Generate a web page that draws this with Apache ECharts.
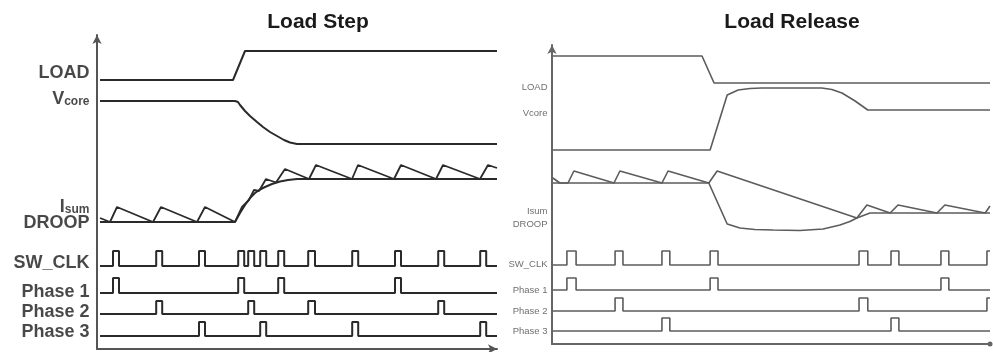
<!DOCTYPE html>
<html><head><meta charset="utf-8">
<script src="https://cdn.jsdelivr.net/npm/echarts/dist/echarts.min.js"></script>
<style>html,body{margin:0;padding:0;background:#fff}#c{width:993px;height:352px}</style>
</head><body><div id="c"></div>
<script>
// ===== Load Step (left panel): time 0..100, level 0..157 =====
const stepLoad  = [[0.75,134.5],[34,134.5],[37,149],[100,149]];
const stepVcore = [[0.75,124],[34.5,124],[35.25,123.5],[35.75,122],[37,119],[38.25,116.5],[40,113.5],[41.5,111],[43.25,108.5],[45,106.5],[46.75,104.5],[48.25,103.25],[50,102.5],[100,102.5]];
const stepDroop = [[0.75,63.5],[34.5,63.5],[35.75,68],[37,72],[38.25,75.5],[39.5,78],[40.75,79.75],[42,81],[43.75,82.5],[45.75,83.75],[47.75,84.5],[50,85],[100,85]];
const stepIsum  = [[0.75,65.5],[3.25,63.5],[5,71],[14,63.5],[16,71],[25,63.5],[27,71],[34.5,63.5],[36.25,71],[38,74.5],[39.25,79.5],[40.5,79],[42.25,85],[44.75,83.25],[47,90],[53,85],[54.75,92],[63.75,85],[65.25,92],[74.25,85],[76,92],[84.75,85],[86.5,92],[95.75,85],[97.75,92],[100,90.5]];
const stepClkPulses    = [[4,5.5],[14.8,16.3],[25.5,27],[35.3,36.8],[37.8,39.3],[40.8,42.3],[45.3,46.8],[52.8,54.5],[63.8,65.3],[74.5,76],[85.3,86.8],[95.8,97.3]];
const stepPhase1Pulses = [[4,5.5],[35.3,36.8],[45.3,46.8],[74.5,76]];
const stepPhase2Pulses = [[14.8,16.3],[37.8,39.3],[52.8,54.5],[85.3,86.8]];
const stepPhase3Pulses = [[25.5,27],[40.8,42.3],[63.8,65.3],[95.8,97.3]];
const stepClkLevel    = [41.5,49];
const stepPhase1Level = [28,35.5];
const stepPhase2Level = [17.5,24];
const stepPhase3Level = [6.5,13.5];
const stepLabels      = ['LOAD','Vcore','Isum','DROOP','SW_CLK','Phase 1','Phase 2','Phase 3'];
const stepLabelLevels = [138,125,71,63,43,28.5,18.5,8.5];

// ===== Load Release (right panel): time 0..100, level 0..149.5 =====
const relLoad  = [[0.2,144],[34.25,144],[37,130.5],[100,130.5]];
const relVcore = [[0.2,97],[36.1,97],[40,124.5],[42.5,127],[45.2,127.75],[47.9,128],[61.6,128],[63.9,127.25],[66.2,125.5],[69.2,121.5],[72.1,117],[100,117]];
const relDroop = [[0.2,80.5],[35.8,80.5],[40,60],[42.9,58],[46.3,57.25],[50.5,57],[56.6,56.75],[61.9,57.5],[65.75,59.5],[68,61.25],[69.6,63],[72.6,65.5],[100,65.5]];
const relIsum  = [[0.2,83],[1.8,80.5],[3.65,80.5],[5,86.5],[14.15,80.5],[15.5,86.5],[25.1,80.5],[26.5,86.5],[35.8,80.5],[37.7,86.5],[69.6,63],[71.9,69.5],[77.2,65.5],[79,69.5],[87.9,65.5],[89.7,69.5],[98.9,65.5],[100,69]];
const relClkPulses    = [[3.4,5.5],[14.4,16.2],[25.1,26.9],[36.1,37.9],[70.1,72.1],[77.4,79.2],[88.8,90.6],[99.3,100]];
const relPhase1Pulses = [[3.4,5.5],[36.1,37.9],[88.8,90.6]];
const relPhase2Pulses = [[14.4,16.2],[70.1,72.1],[99.3,100]];
const relPhase3Pulses = [[25.1,26.9],[77.4,79.2]];
const relClkLevel    = [39.5,46.5];
const relPhase1Level = [27,33];
const relPhase2Level = [16.5,23];
const relPhase3Level = [6.5,13];
const relLabels      = ['LOAD','Vcore','Isum','DROOP','SW_CLK','Phase 1','Phase 2','Phase 3'];
const relLabelLevels = [128.5,115.5,66.5,60,40,27,16.5,6.5];

const titles = ['Load Step','Load Release'];

// build a digital waveform from pulse [start,end] times
function pulseWave(pulses, level, tStart, tEnd) {
  const lo = level[0], hi = level[1];
  const pts = [[tStart, lo]];
  for (const [s, e] of pulses) {
    pts.push([s, lo], [s, hi]);
    if (e >= tEnd) { pts.push([tEnd, hi]); return pts; }
    pts.push([e, hi], [e, lo]);
  }
  pts.push([tEnd, lo]);
  return pts;
}

const FONT = "'Liberation Sans', Arial, sans-serif";
const LEFT_COLOR = '#2a2a2a', RIGHT_COLOR = '#5c5c5c';

function trace(data, gi, color, width) {
  return { type:'line', xAxisIndex:gi, yAxisIndex:gi, data:data, symbol:'none', showSymbol:false,
    lineStyle:{color:color, width:width}, silent:true, animation:false, z:3, clip:false };
}

const series = [
  trace(stepLoad,0,LEFT_COLOR,2), trace(stepVcore,0,LEFT_COLOR,2), trace(stepDroop,0,LEFT_COLOR,2), trace(stepIsum,0,LEFT_COLOR,1.8),
  trace(pulseWave(stepClkPulses,stepClkLevel,0.75,100),0,LEFT_COLOR,2),
  trace(pulseWave(stepPhase1Pulses,stepPhase1Level,0.75,100),0,LEFT_COLOR,2),
  trace(pulseWave(stepPhase2Pulses,stepPhase2Level,0.75,100),0,LEFT_COLOR,2),
  trace(pulseWave(stepPhase3Pulses,stepPhase3Level,0.75,100),0,LEFT_COLOR,2),
  trace(relLoad,1,RIGHT_COLOR,1.6), trace(relVcore,1,RIGHT_COLOR,1.6), trace(relDroop,1,RIGHT_COLOR,1.6), trace(relIsum,1,RIGHT_COLOR,1.6),
  trace(pulseWave(relClkPulses,relClkLevel,0.2,100),1,RIGHT_COLOR,1.6),
  trace(pulseWave(relPhase1Pulses,relPhase1Level,0.2,100),1,RIGHT_COLOR,1.6),
  trace(pulseWave(relPhase2Pulses,relPhase2Level,0.2,100),1,RIGHT_COLOR,1.6),
  trace(pulseWave(relPhase3Pulses,relPhase3Level,0.2,100),1,RIGHT_COLOR,1.6),
  {
    type:'scatter', xAxisIndex:0, yAxisIndex:0, symbolSize:1, itemStyle:{color:'rgba(0,0,0,0)'}, silent:true, animation:false,
    data: stepLabels.map((n,i)=>({name:n, value:[0, stepLabelLevels[i]]})),
    label:{ show:true, position:'left', distance:7, color:'#1a1a1a',
      formatter:(p)=> p.name==='Vcore' ? '{m|V}{s|core}' : p.name==='Isum' ? '{m|I}{s|sum}' : '{m|'+p.name+'}',
      rich:{
        m:{fontSize:18, fontWeight:'bold', color:'#1a1a1a', fontFamily:FONT, lineHeight:18},
        s:{fontSize:12, fontWeight:'bold', color:'#1a1a1a', fontFamily:FONT, verticalAlign:'bottom', lineHeight:14}
      } }
  },
  {
    type:'scatter', xAxisIndex:1, yAxisIndex:1, symbolSize:1, itemStyle:{color:'rgba(0,0,0,0)'}, silent:true, animation:false,
    data: relLabels.map((n,i)=>({name:n, value:[0, relLabelLevels[i]]})),
    label:{ show:true, position:'left', distance:4, formatter:'{b}', fontSize:9.5, color:'#4a4a4a', fontFamily:FONT }
  }
];

function xAx(gi, sym, color) {
  return { gridIndex:gi, type:'value', min:0, max:100,
    axisLine:{show:true, onZero:true, symbol:['none',sym], symbolSize: sym==='circle'?[5,5]:[7,9], lineStyle:{color:color, width:2}},
    axisTick:{show:false}, axisLabel:{show:false}, splitLine:{show:false} };
}
function yAx(gi, max, color) {
  return { gridIndex:gi, type:'value', min:0, max:max,
    axisLine:{show:true, onZero:true, symbol:['none','arrow'], symbolSize:[7,9], lineStyle:{color:color, width:2}},
    axisTick:{show:false}, axisLabel:{show:false}, splitLine:{show:false} };
}

const chart = echarts.init(document.getElementById('c'), null, {renderer:'canvas'});
chart.setOption({
  backgroundColor:'#ffffff',
  animation:false,
  title:[
    {text:titles[0], left:313, top:7, textAlign:'center', textStyle:{fontSize:21, fontWeight:'bold', color:'#1a1a1a', fontFamily:FONT}},
    {text:titles[1], left:787, top:7, textAlign:'center', textStyle:{fontSize:21, fontWeight:'bold', color:'#1a1a1a', fontFamily:FONT}}
  ],
  grid:[
    {left:97, top:35, width:400, height:314, outerBoundsMode:'none', containLabel:false},
    {left:552, top:45, width:438, height:299, outerBoundsMode:'none', containLabel:false}
  ],
  xAxis:[xAx(0,'arrow','#555'), xAx(1,'circle','#666')],
  yAxis:[yAx(0,157,'#555'), yAx(1,149.5,'#666')],
  series:series
});
</script></body></html>
